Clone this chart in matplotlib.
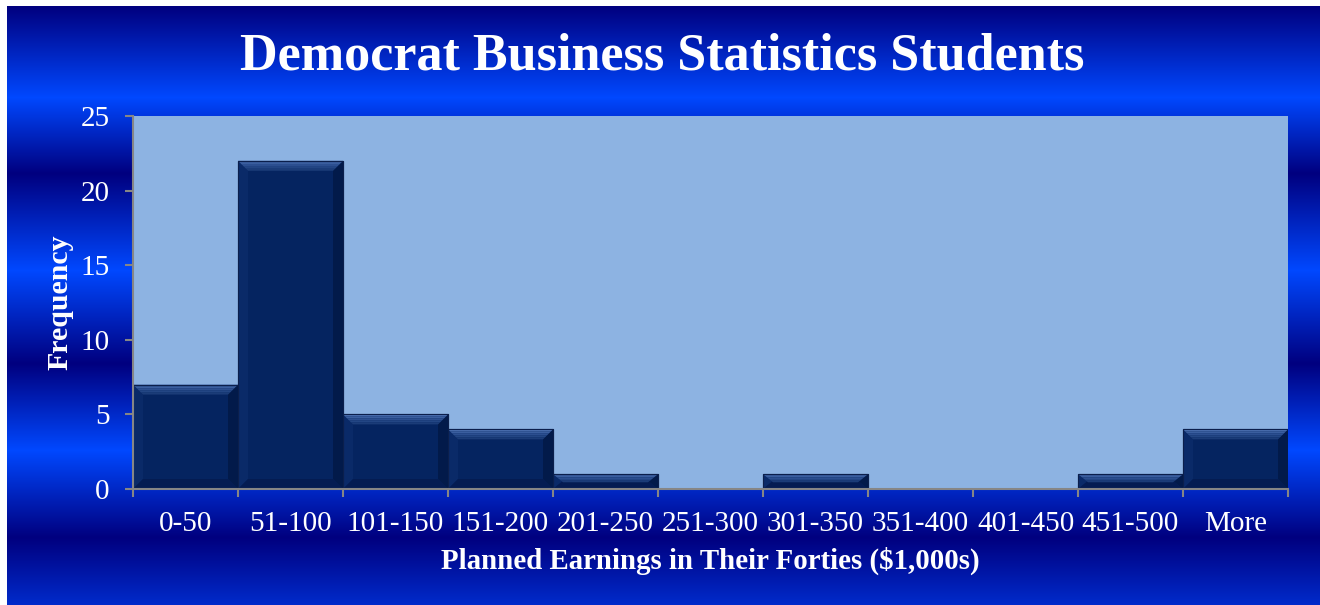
import matplotlib.pyplot as plt
import numpy as np
from matplotlib.colors import to_rgb
from matplotlib.patches import Polygon

# Histogram counts
bins = ['0-50', '51-100', '101-150', '151-200', '201-250', '251-300',
        '301-350', '351-400', '401-450', '451-500', 'More']
counts = [7, 22, 5, 4, 1, 0, 1, 0, 0, 1, 4]

title = 'Democrat Business Statistics Students'
xlabel = 'Planned Earnings in Their Forties ($1,000s)'
ylabel = 'Frequency'

W, H = 1320, 605
fig = plt.figure(figsize=(W / 100, H / 100), dpi=100, facecolor='white')

# striped blue backdrop (pixel row -> colour stops)
dark = np.array(to_rgb('#00007f'))
bright = np.array(to_rgb('#0048ff'))
stops_y = [6, 97, 173, 270, 363, 450, 537, 605]
stops_c = [dark, bright, dark, bright, dark, bright, dark, 0.6 * bright + 0.4 * dark]
rows = np.arange(6, H)
grad = np.stack([np.interp(rows, stops_y, [c[k] for c in stops_c]) for k in range(3)], axis=-1)
bg = fig.add_axes([7 / W, 0, 1 - 7 / W, 1 - 6 / H], zorder=-5)
bg.imshow(grad[:, None, :], aspect='auto', extent=(0, 1, 0, 1))
bg.axis('off')

ax = fig.add_axes([133 / W, 1 - 489 / H, (1288 - 133) / W, (489 - 116) / H])
ax.set_facecolor('#8db3e2')
ax.set_xlim(-0.5, len(bins) - 0.5)
ax.set_ylim(0, 25)

body = '#052460'
x = np.arange(len(bins))
ax.bar(x, counts, width=1.0, color=body, edgecolor='#0b1f4c', linewidth=0.8, zorder=2)

# bevel on each bar
px_x = (len(bins)) / (1288 - 133)
px_y = 25 / (489 - 116)
for xi, v in zip(x, counts):
    if v <= 0:
        continue
    l, r = xi - 0.5, xi + 0.5
    bh = min(10 * px_y, 0.55 * v)
    bw = 10 * px_x
    # side shading
    ax.add_patch(Polygon([(l, 0), (l, v), (l + bw, v - bh), (l + bw, bh)],
                         closed=True, facecolor='#0a2a68', edgecolor='none', zorder=3))
    ax.add_patch(Polygon([(r, 0), (r, v), (r - bw, v - bh), (r - bw, bh)],
                         closed=True, facecolor='#021a4a', edgecolor='none', zorder=3))
    ax.add_patch(Polygon([(l, 0), (r, 0), (r - bw, bh), (l + bw, bh)],
                         closed=True, facecolor='#041c52', edgecolor='none', zorder=3))
    # top face in a few bands, light at the rim
    tops = ['#4a6fb0', '#3a5e9f', '#2c4f90', '#234684', '#1b3c78']
    n = len(tops)
    for k, c in enumerate(tops):
        y0 = v - bh * k / n
        y1 = v - bh * (k + 1) / n
        i0 = bw * k / n
        i1 = bw * (k + 1) / n
        ax.add_patch(Polygon([(l + i0, y0), (r - i0, y0), (r - i1, y1), (l + i1, y1)],
                             closed=True, facecolor=c, edgecolor='none', zorder=4))
    ax.add_patch(plt.Rectangle((l, 0), 1, v, facecolor='none', edgecolor='#0b1f4c',
                               linewidth=0.8, zorder=5))

for s in ['top', 'right']:
    ax.spines[s].set_visible(False)
for s in ['left', 'bottom']:
    ax.spines[s].set_color('#868686')
    ax.spines[s].set_linewidth(1.5)
    ax.spines[s].set_zorder(6)

font = 'Liberation Serif'
ax.set_yticks(np.arange(0, 26, 5))
ax.set_xticks(np.arange(-0.5, len(bins)))
ax.set_xticklabels([])
ax.set_xticks(x, minor=True)
ax.set_xticklabels(bins, minor=True, family=font, fontsize=21, color='white')
ax.tick_params(axis='x', which='major', direction='out', length=6, width=1.5, color='#868686')
ax.tick_params(axis='x', which='minor', length=0, pad=16)
ax.tick_params(axis='y', direction='out', length=6, width=1.5, color='#868686',
               labelcolor='white', labelsize=21, pad=11)
for t in ax.get_yticklabels():
    t.set_family(font)

fig.text(662 / W, 1 - 57 / H, title, ha='center', va='center', color='white',
         family=font, fontweight='bold', fontsize=37.5)
fig.text(710 / W, 1 - 561 / H, xlabel, ha='center', va='center', color='white',
         family=font, fontweight='bold', fontsize=20.8)
fig.text(60 / W, 1 - 302 / H, ylabel, ha='center', va='center', rotation=90,
         color='white', family=font, fontweight='bold', fontsize=21.5)

fig.savefig('out.png', dpi=100, facecolor=fig.get_facecolor())
